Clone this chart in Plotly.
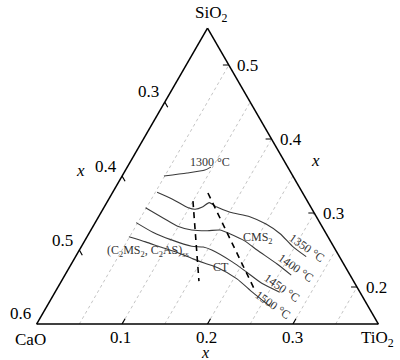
import plotly.graph_objects as go

# ---- ternary frame (pseudo-ternary: CaO + SiO2 + TiO2 = 0.75) ----
TOTAL = 0.75
SIO2_MIN, CAO_MIN, TIO2_MIN = 0.15, 0.20, 0.00

cao_ticks = [0.3, 0.4, 0.5, 0.6]      # left edge
sio2_ticks = [0.2, 0.3, 0.4, 0.5]     # right edge
tio2_ticks = [0.1, 0.2, 0.3]          # bottom edge
grid_tio2 = [0.05, 0.10, 0.15, 0.20, 0.25, 0.30, 0.35]

# ---- isotherms (TiO2, SiO2 mole fractions) ----
iso_names = ["1300 °C", "1350 °C", "1400 °C", "1450 °C", "1500 °C"]
iso_1300_tio2 = [0.049, 0.074, 0.093, 0.098]
iso_1300_sio2 = [0.350, 0.354, 0.358, 0.362]
iso_1350_tio2 = [0.052, 0.074, 0.099, 0.108, 0.115, 0.120, 0.132, 0.151, 0.177, 0.201, 0.224, 0.247, 0.270]
iso_1350_sio2 = [0.328, 0.319, 0.307, 0.305, 0.308, 0.314, 0.308, 0.301, 0.295, 0.285, 0.272, 0.255, 0.241]
iso_1400_tio2 = [0.049, 0.077, 0.099, 0.118, 0.137, 0.151, 0.165, 0.188, 0.208, 0.241, 0.265]
iso_1400_sio2 = [0.307, 0.293, 0.282, 0.277, 0.276, 0.277, 0.272, 0.262, 0.250, 0.231, 0.216]
iso_1450_tio2 = [0.048, 0.074, 0.100, 0.129, 0.143, 0.155, 0.187, 0.211, 0.236, 0.263]
iso_1450_sio2 = [0.287, 0.274, 0.264, 0.255, 0.254, 0.250, 0.234, 0.220, 0.205, 0.193]
iso_1500_tio2 = [0.049, 0.072, 0.093, 0.118, 0.139, 0.156, 0.174, 0.204, 0.231, 0.261]
iso_1500_sio2 = [0.268, 0.261, 0.254, 0.246, 0.238, 0.232, 0.226, 0.211, 0.193, 0.174]

# ---- phase boundaries (dashed) ----
bnd1_tio2 = [0.100, 0.161]
bnd1_sio2 = [0.316, 0.208]
bnd2_tio2 = [0.112, 0.235]
bnd2_sio2 = [0.327, 0.193]

# ---- labels (TiO2, SiO2, text, angle) ----
lab_text = ["1300 °C", "CMS<sub>2</sub>", "CT", "(C<sub>2</sub>MS<sub>2</sub>, C<sub>2</sub>AS)<sub>ss</sub>",
            "1350 °C", "1400 °C", "1450 °C", "1500 °C"]
lab_tio2 = [0.0935, 0.2008, 0.1776, 0.0816, 0.2647, 0.2654, 0.2626, 0.2636]
lab_sio2 = [0.3689, 0.2662, 0.2264, 0.2480, 0.2527, 0.2257, 0.1986, 0.1757]
lab_angle = [0, 0, 0, 0, 35, 35, 35, 35]

FONT = "Liberation Serif"
TICK = 0.007


def cao_of(t, s):
    return [TOTAL - a - b for a, b in zip(t, s)]


def to_paper(t, s):
    L = TOTAL - SIO2_MIN - CAO_MIN - TIO2_MIN
    ss = (s - SIO2_MIN) / L
    tt = (t - TIO2_MIN) / L
    return tt + 0.5 * ss, ss


fig = go.Figure()

# dotted grid lines of constant TiO2
ga, gb, gc = [], [], []
for v in grid_tio2:
    s_top = TOTAL - CAO_MIN - v
    for s in (SIO2_MIN, s_top):
        ga.append(s); gc.append(v); gb.append(TOTAL - s - v)
    ga.append(None); gb.append(None); gc.append(None)
fig.add_trace(go.Scatterternary(a=ga, b=gb, c=gc, mode="lines",
                                line=dict(color="#c4c4c4", width=1, dash="dot"),
                                hoverinfo="skip", showlegend=False))

# isotherms
iso_t = [iso_1300_tio2, iso_1350_tio2, iso_1400_tio2, iso_1450_tio2, iso_1500_tio2]
iso_s = [iso_1300_sio2, iso_1350_sio2, iso_1400_sio2, iso_1450_sio2, iso_1500_sio2]
for name, t, s in zip(iso_names, iso_t, iso_s):
    fig.add_trace(go.Scatterternary(a=s, b=cao_of(t, s), c=t, mode="lines", name=name,
                                    line=dict(color="#3a3a3a", width=1.1, shape="spline", smoothing=0.6),
                                    showlegend=False))

# dashed boundaries
for t, s in ((bnd1_tio2, bnd1_sio2), (bnd2_tio2, bnd2_sio2)):
    fig.add_trace(go.Scatterternary(a=s, b=cao_of(t, s), c=t, mode="lines",
                                    line=dict(color="black", width=1.6, dash="6px,5px"),
                                    showlegend=False))

# tick marks
ta, tb, tc = [], [], []
for v in cao_ticks:
    if abs(TOTAL - v - SIO2_MIN) < 1e-9:
        continue
    for t in (TIO2_MIN, TIO2_MIN + TICK):
        tb.append(v); tc.append(t); ta.append(TOTAL - v - t)
    ta.append(None); tb.append(None); tc.append(None)
for v in sio2_ticks:
    for c in (CAO_MIN, CAO_MIN + TICK):
        ta.append(v); tb.append(c); tc.append(TOTAL - v - c)
    ta.append(None); tb.append(None); tc.append(None)
for v in tio2_ticks:
    for s in (SIO2_MIN, SIO2_MIN + TICK):
        tc.append(v); ta.append(s); tb.append(TOTAL - v - s)
    ta.append(None); tb.append(None); tc.append(None)
fig.add_trace(go.Scatterternary(a=ta, b=tb, c=tc, mode="lines",
                                line=dict(color="black", width=1.2),
                                hoverinfo="skip", showlegend=False))

annotations = []
tick_font = dict(family=FONT, size=17, color="black")

# tick labels, anchored at the tick positions on each edge
for v in cao_ticks:
    px, py = to_paper(TIO2_MIN, TOTAL - v - TIO2_MIN)
    annotations.append(dict(x=px, y=py, xref="paper", yref="paper", text=f"{v:.1f}",
                            showarrow=False, xanchor="center", yanchor="middle",
                            xshift=-16, yshift=10, font=tick_font))
for v in sio2_ticks:
    px, py = to_paper(TOTAL - CAO_MIN - v, v)
    annotations.append(dict(x=px, y=py, xref="paper", yref="paper", text=f"{v:.1f}",
                            showarrow=False, xanchor="center", yanchor="middle",
                            xshift=19, yshift=0, font=tick_font))
for v in tio2_ticks:
    px, py = to_paper(v, SIO2_MIN)
    annotations.append(dict(x=px, y=py, xref="paper", yref="paper", text=f"{v:.1f}",
                            showarrow=False, xanchor="center", yanchor="middle",
                            xshift=-1, yshift=-13, font=tick_font))

for txt, t, s, ang in zip(lab_text, lab_tio2, lab_sio2, lab_angle):
    px, py = to_paper(t, s)
    annotations.append(dict(x=px, y=py, xref="paper", yref="paper", text=txt, showarrow=False,
                            textangle=ang, xanchor="center", yanchor="middle",
                            font=dict(family=FONT, size=12, color="#333333")))

# corner labels and axis symbols
for txt, x, y in (("SiO<sub>2</sub>", 0.51, 1.047), ("CaO", -0.016, -0.051), ("TiO<sub>2</sub>", 0.997, -0.051)):
    annotations.append(dict(x=x, y=y, xref="paper", yref="paper", text=txt, showarrow=False,
                            xanchor="center", yanchor="middle",
                            font=dict(family=FONT, size=17, color="black")))
for x, y, size in ((0.131, 0.520, 17), (0.816, 0.551, 17), (0.493, -0.097, 16)):
    annotations.append(dict(x=x, y=y, xref="paper", yref="paper", text="<i>x</i>", showarrow=False,
                            xanchor="center", yanchor="middle",
                            font=dict(family=FONT, size=size, color="black")))

axis_common = dict(showgrid=False, showticklabels=False, ticks="", linecolor="black",
                   linewidth=1.5, title=dict(text=""))
fig.update_layout(
    template="none",
    width=400, height=360,
    margin=dict(l=36, r=21, t=28, b=36),
    paper_bgcolor="white",
    showlegend=False,
    ternary=dict(
        sum=TOTAL,
        bgcolor="white",
        domain=dict(x=[0, 1], y=[0, 1]),
        aaxis=dict(min=SIO2_MIN, **axis_common),
        baxis=dict(min=CAO_MIN, **axis_common),
        caxis=dict(min=TIO2_MIN, **axis_common),
    ),
    annotations=annotations,
)

fig.write_html("out.html")
